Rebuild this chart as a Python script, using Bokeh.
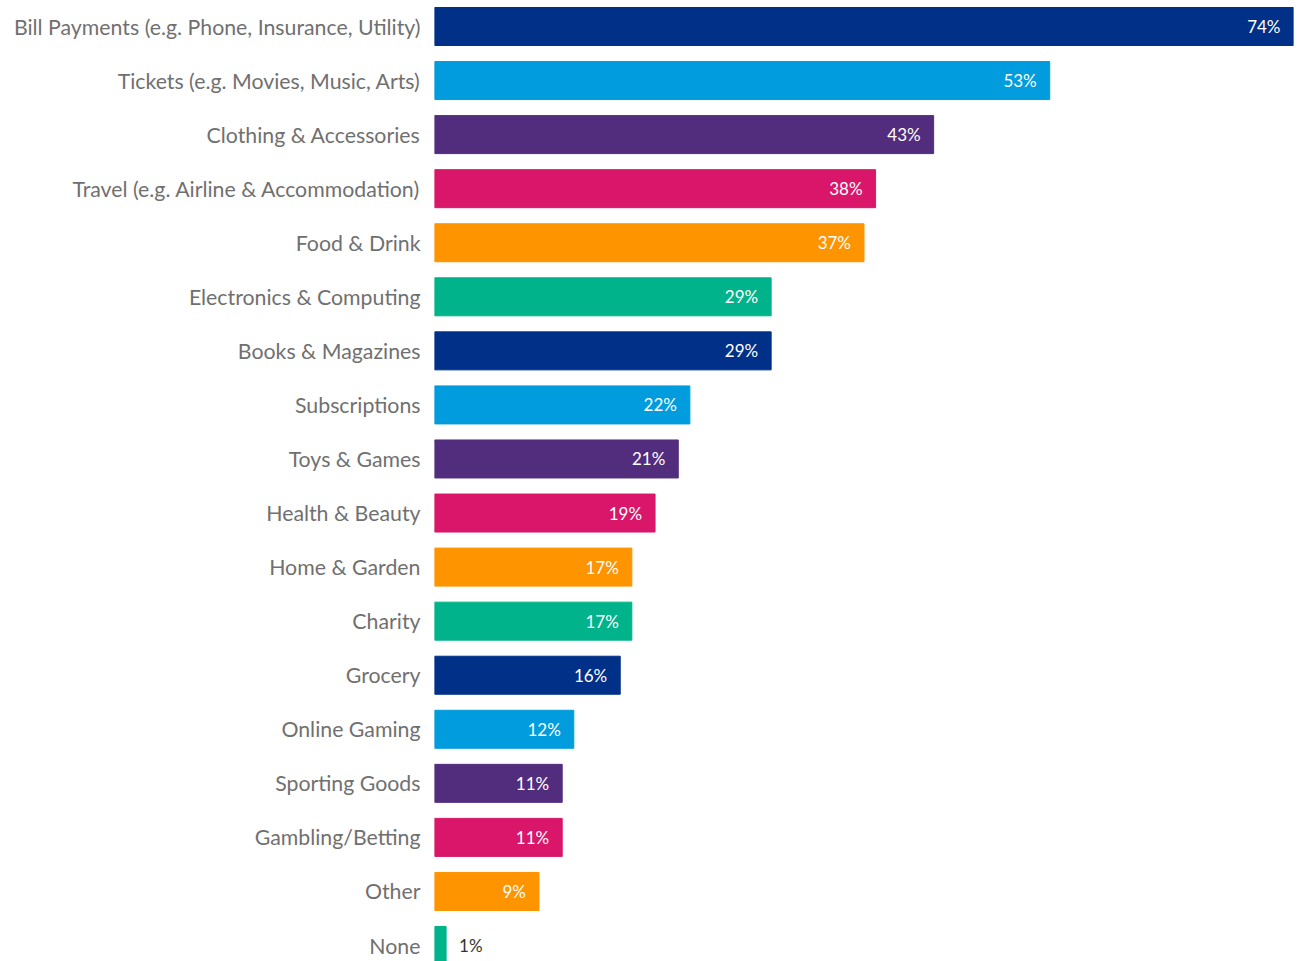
from bokeh.plotting import figure
from bokeh.models import ColumnDataSource, Range1d, FixedTicker
from bokeh.core.properties import value
from bokeh.embed import file_html
from bokeh.resources import INLINE

categories = [
    "Bill Payments (e.g. Phone, Insurance, Utility)",
    "Tickets (e.g. Movies, Music, Arts)",
    "Clothing & Accessories",
    "Travel (e.g. Airline & Accommodation)",
    "Food & Drink",
    "Electronics & Computing",
    "Books & Magazines",
    "Subscriptions",
    "Toys & Games",
    "Health & Beauty",
    "Home & Garden",
    "Charity",
    "Grocery",
    "Online Gaming",
    "Sporting Goods",
    "Gambling/Betting",
    "Other",
    "None",
]
values = [74, 53, 43, 38, 37, 29, 29, 22, 21, 19, 17, 17, 16, 12, 11, 11, 9, 1]
palette = ["#003087", "#009cde", "#532d7d", "#d9166a", "#fd9400", "#00b38a"]

FONT = "Lato"
n = len(categories)
pos = list(range(n))
colors = [palette[i % len(palette)] for i in range(n)]
labels = [f"{v}%" for v in values]

src = ColumnDataSource(dict(y=pos, v=values, c=colors, t=labels))
inside = [i for i in range(n) if values[i] >= 5]
outside = [i for i in range(n) if values[i] < 5]
src_in = ColumnDataSource(dict(y=[pos[i] for i in inside], v=[values[i] for i in inside],
                               t=[labels[i] for i in inside]))
src_out = ColumnDataSource(dict(y=[pos[i] for i in outside], v=[values[i] for i in outside],
                                t=[labels[i] for i in outside]))

pitch = 54.06
bar_h = 38 / pitch
H = 961
top_off = 26 / pitch

p = figure(
    width=1306, height=H,
    x_range=Range1d(0, 74),
    y_range=Range1d(start=(H - 26) / pitch, end=-top_off),
    output_backend="svg", toolbar_location=None,
    min_border_left=434, min_border_right=13, min_border_top=0, min_border_bottom=0,
)
p.hbar(y="y", right="v", left=0, height=bar_h, color="c", source=src)

p.text(x="v", y="y", text="t", source=src_in, x_offset=-13, text_align="right",
       text_baseline="middle", text_color="white", text_font=value(FONT),
       text_font_size="17px")
p.text(x="v", y="y", text="t", source=src_out, x_offset=13, text_align="left",
       text_baseline="middle", text_color="#333333", text_font=value(FONT),
       text_font_size="17px")

p.xaxis.visible = False
p.yaxis.ticker = FixedTicker(ticks=pos)
p.yaxis.major_label_overrides = {i: categories[i] for i in pos}
p.yaxis.axis_line_color = None
p.yaxis.major_tick_line_color = None
p.yaxis.minor_tick_line_color = None
p.yaxis.major_label_standoff = 8
p.yaxis.major_label_text_font = FONT
p.yaxis.major_label_text_font_size = "21.3px"
p.yaxis.major_label_text_color = "#707070"
p.grid.visible = False
p.outline_line_color = None

open("out.html", "w").write(file_html(p, INLINE))
